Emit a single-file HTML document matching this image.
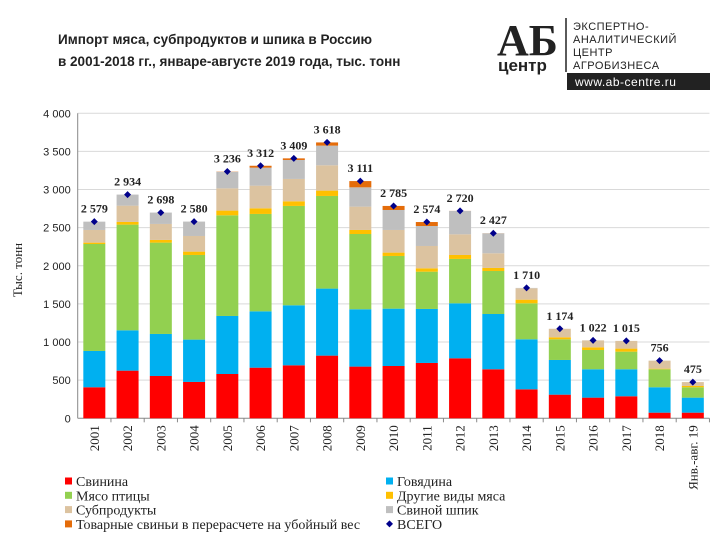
<!DOCTYPE html>
<html><head><meta charset="utf-8"><style>
body{margin:0;background:#fff;width:728px;height:546px;overflow:hidden;font-family:"Liberation Sans",sans-serif}
</style></head><body>
<svg id="chart" width="728" height="546" xmlns="http://www.w3.org/2000/svg" font-family="Liberation Sans, sans-serif">
<text x="58" y="44" font-size="13.5" font-weight="bold" fill="#222">Импорт мяса, субпродуктов  и шпика в Россию</text>
<text x="58" y="66" font-size="13.5" font-weight="bold" fill="#222">в 2001-2018 гг., январе-августе  2019 года, тыс. тонн</text>
<g>
<text x="497" y="55" font-size="44" font-weight="bold" font-family="Liberation Serif, serif" fill="#222">АБ</text>
<text x="498" y="71" font-size="17" font-weight="bold" fill="#222">центр</text>
<line x1="566" y1="18" x2="566" y2="72" stroke="#222" stroke-width="1.5"/>
<text x="573" y="30" font-size="11" fill="#222" letter-spacing="0.5">ЭКСПЕРТНО-</text>
<text x="573" y="43" font-size="11" fill="#222" letter-spacing="0.5">АНАЛИТИЧЕСКИЙ</text>
<text x="573" y="56" font-size="11" fill="#222" letter-spacing="0.5">ЦЕНТР</text>
<text x="573" y="69" font-size="11" fill="#222" letter-spacing="0.5">АГРОБИЗНЕСА</text>
<rect x="567" y="73" width="143" height="17" fill="#222"/>
<text x="575" y="86" font-size="12" fill="#fff" letter-spacing="0.5">www.ab-centre.ru</text>
</g>
<text transform="translate(22,270) rotate(-90)" text-anchor="middle" font-size="13" font-family="Liberation Serif, serif" fill="#222">Тыс. тонн</text>
<g id="grid"></g><g id="bars"></g><g id="axes"></g>
<g id="legend"></g>
</svg>
<script>
const categories=["2001","2002","2003","2004","2005","2006","2007","2008","2009","2010","2011","2012","2013","2014","2015","2016","2017","2018","Янв.-авг. 19"];
const pork=[407,625,555,477,581,664,695,822,678,686,726,787,643,380,310,271,289,74,74];
const beef=[476,529,551,555,761,739,787,879,752,752,708,721,725,656,455,372,354,333,197];
const poultry=[1403,1386,1198,1110,1320,1277,1303,1215,987,691,489,582,564,472,271,253,231,236,136];
const otherMeat=[18,35,35,44,62,74,61,70,53,44,44,52,40,48,26,35,40,8,17];
const offal=[166,214,210,205,292,297,293,332,306,297,293,271,192,149,112,91,101,105,51];
const fat=[109,145,149,189,217,236,249,258,253,262,262,306,262,5,0,0,0,0,0];
const livePigs=[0,0,0,0,3,25,21,42,82,53,52,1,1,0,0,0,0,0,0];
const totals=[2579,2934,2698,2580,3236,3312,3409,3618,3111,2785,2574,2720,2427,1710,1174,1022,1015,756,475];
const yTicks=[0,500,1000,1500,2000,2500,3000,3500,4000];
const series=[
 {name:"Свинина",data:pork,color:"#ff0000"},
 {name:"Говядина",data:beef,color:"#00b0f0"},
 {name:"Мясо птицы",data:poultry,color:"#92d050"},
 {name:"Другие виды мяса",data:otherMeat,color:"#ffc000"},
 {name:"Субпродукты",data:offal,color:"#dcc3a0"},
 {name:"Свиной шпик",data:fat,color:"#bfbfbf"},
 {name:"Товарные свиньи в перерасчете на убойный вес",data:livePigs,color:"#e46c0a"}
];
const NS="http://www.w3.org/2000/svg";
const X0=77.7,STEP=33.25,Y0=418.3,YK=76.25/1000,BW=22;
const xc=i=>X0+STEP*(i+0.5), y=v=>Y0-v*YK;
function mk(t,a,p){const e=document.createElementNS(NS,t);for(const k in a)e.setAttribute(k,a[k]);p.appendChild(e);return e;}
const grid=document.getElementById('grid'),bars=document.getElementById('bars'),axes=document.getElementById('axes'),legend=document.getElementById('legend');
yTicks.forEach(t=>{
 const l=mk('line',{x1:X0,x2:X0+STEP*categories.length,y1:y(t),y2:y(t),stroke:t?'#d9d9d9':'#888','stroke-width':1},grid);
 
 
 const tx=mk('text',{x:X0-7,y:y(t)+4,'text-anchor':'end','font-size':11,fill:'#222'},axes);
 tx.textContent=t===0?'0':(t>=1000?Math.floor(t/1000)+' '+String(t%1000).padStart(3,'0'):String(t));
 
 
});
mk('line',{x1:X0,x2:X0,y1:y(4000),y2:Y0,stroke:'#888'},axes);
categories.forEach((c,i)=>{
 let acc=0;
 series.forEach(s=>{
  const v=s.data[i]; if(v<=0)return;
  const r=mk('rect',{x:xc(i)-BW/2,y:y(acc+v),width:BW,height:v*YK,fill:s.color},bars);
  
  
  acc+=v;
 });
 const yy=y(totals[i]);
 const d=mk('path',{d:`M${xc(i)} ${yy-3.5}L${xc(i)+3.5} ${yy}L${xc(i)} ${yy+3.5}L${xc(i)-3.5} ${yy}Z`,fill:'#00008b'},bars);
 
 
 const lb=mk('text',{x:xc(i),y:yy-9,'text-anchor':'middle','font-size':12,'font-weight':'bold','font-family':'Liberation Serif, serif',fill:'#222'},bars);
 const t=totals[i];
 lb.textContent=t>=1000?Math.floor(t/1000)+' '+String(t%1000).padStart(3,'0'):String(t);
 
 
 mk('line',{x1:X0+STEP*(i+1),x2:X0+STEP*(i+1),y1:Y0,y2:Y0+4,stroke:'#888'},axes);
 const xl=mk('text',{transform:`translate(${xc(i)+4.5},${Y0+7}) rotate(-90)`,'text-anchor':'end','font-size':13,'font-family':'Liberation Serif, serif',fill:'#222'},axes);
 xl.textContent=c;
 
 
});
const leg=[...series.map(s=>({name:s.name,color:s.color})),{name:"ВСЕГО",color:"#00008b",diamond:true}];
leg.forEach((e,k)=>{
 const col=k===6?0:(k===7?1:k%2), row=k===6?3:(k===7?3:Math.floor(k/2));
 const lx=col?386:65, ly=481+row*14.3;
 let m;
 if(e.diamond) m=mk('path',{d:`M${lx+3.5} ${ly-3.5}L${lx+7} ${ly}L${lx+3.5} ${ly+3.5}L${lx} ${ly}Z`,fill:e.color},legend);
 else m=mk('rect',{x:lx,y:ly-3.5,width:7,height:7,fill:e.color},legend);
 
 
 const t=mk('text',{x:lx+11,y:ly+5,'font-size':14,'font-family':'Liberation Serif, serif',fill:'#222'},legend);
 t.textContent=e.name;
 
 
});
</script>
</body></html>
